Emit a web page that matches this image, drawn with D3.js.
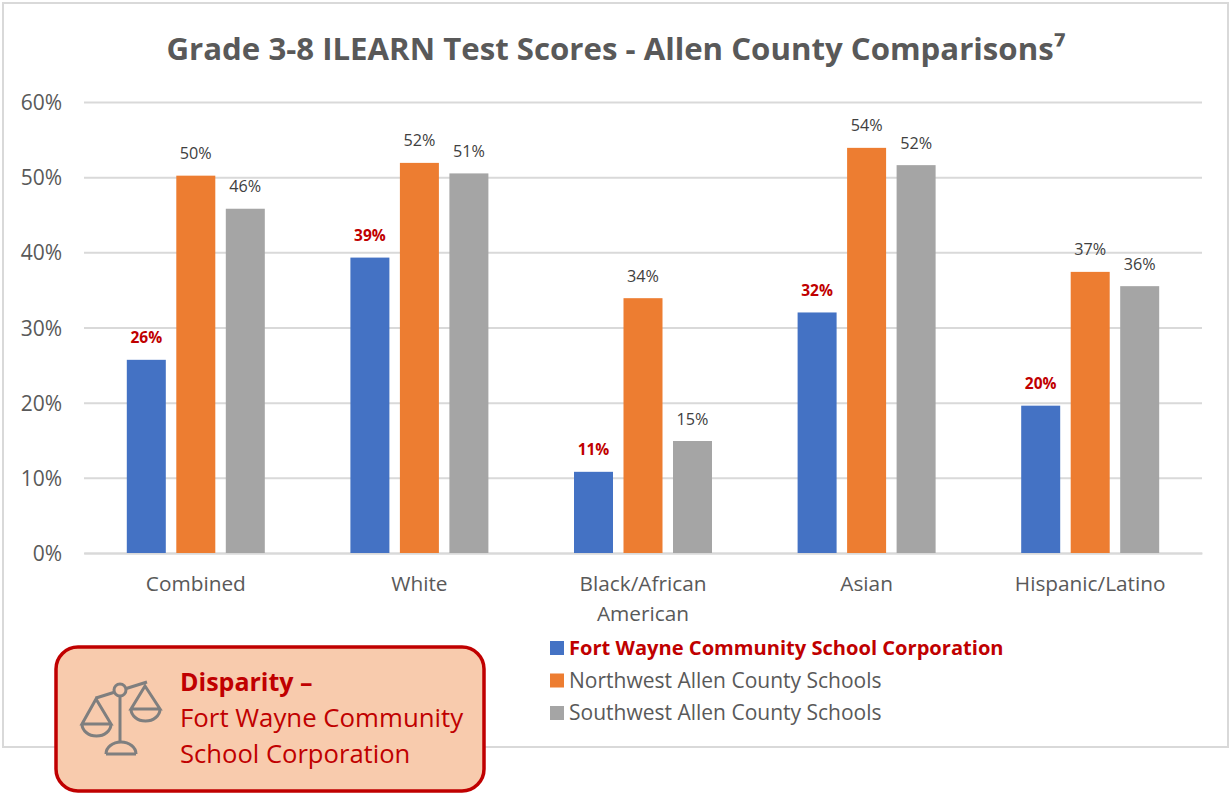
<!DOCTYPE html>
<html><head><meta charset="utf-8">
<style>html,body{margin:0;padding:0;background:#fff}svg{display:block}text{font-family:"Open Sans",sans-serif}</style>
<script src="https://cdn.jsdelivr.net/npm/d3@7"></script></head><body>
<script>
const categories=["Combined","White","Black/African American","Asian","Hispanic/Latino"];
const seriesNames=["Fort Wayne Community School Corporation","Northwest Allen County Schools","Southwest Allen County Schools"];
const fortWayne=[25.7,39.3,10.8,32.0,19.6];
const northwest=[50.2,51.9,33.9,53.9,37.4];
const southwest=[45.8,50.5,14.9,51.6,35.5];
const labelsFW=["26%","39%","11%","32%","20%"];
const labelsNW=["50%","52%","34%","54%","37%"];
const labelsSW=["46%","51%","15%","52%","36%"];
const colors=["#4472c4","#ed7d31","#a5a5a5"];
const yTicks=[0,10,20,30,40,50,60];
const W=1231,H=793,grey="#595959",red="#c00000";
const svg=d3.select("body").append("svg").attr("width",W).attr("height",H);
svg.append("rect").attr("x",3).attr("y",3).attr("width",1225).attr("height",744).attr("fill","#fff").attr("stroke","#d9d9d9").attr("stroke-width",2);
svg.append("text").attr("x",616).attr("y",60).attr("text-anchor","middle").attr("font-size",31.2).attr("font-weight",700).attr("fill",grey)
  .text("Grade 3-8 ILEARN Test Scores - Allen County Comparisons⁷");
const x=d3.scaleBand().domain(categories).range([84,1202]);
const y=d3.scaleLinear().domain([0,60]).range([553,102]);
const sx=d3.scaleBand().domain([0,1,2]).range([0,138]).paddingInner(0.2121).paddingOuter(0);
// gridlines and y axis
const ya=svg.append("g").attr("transform","translate(84,0)").call(d3.axisLeft(y).tickValues(yTicks).tickFormat(d=>d+"%").tickSize(-1118));
ya.select(".domain").remove();
ya.selectAll("line").attr("stroke","#d9d9d9").attr("stroke-width",2);
ya.selectAll("text").attr("x",-22).attr("dy","0.36em").attr("font-size",21).attr("fill",grey).style("font-family",'"Open Sans",sans-serif');
// x axis
const xa=svg.append("g").attr("transform","translate(0,553)").call(d3.axisBottom(x).tickSize(0).tickFormat(""));
xa.select(".domain").attr("stroke","#d9d9d9").attr("stroke-width",2);
xa.selectAll("text").remove();
const catLines={"Black/African American":["Black/African","American"]};
categories.forEach(c=>{
  const lines=catLines[c]||[c];
  lines.forEach((l,i)=>svg.append("text").attr("x",x(c)+x.bandwidth()/2).attr("y",591+i*29.5).attr("text-anchor","middle").attr("font-size",20.8).attr("fill",grey).text(l));
});
// bars
[[fortWayne,labelsFW],[northwest,labelsNW],[southwest,labelsSW]].forEach(([vals,labs],s)=>{
  const off=x.bandwidth()/2-69+sx(s);
  categories.forEach((c,i)=>{
    svg.append("rect").attr("x",x(c)+off).attr("y",y(vals[i])).attr("width",sx.bandwidth()).attr("height",y(0)-y(vals[i])).attr("fill",colors[s]);
    svg.append("text").attr("x",x(c)+off+sx.bandwidth()/2).attr("y",y(vals[i])-16.5).attr("text-anchor","middle")
      .attr("font-size",s===0?15.5:16.2).attr("font-weight",s===0?700:400).attr("fill",s===0?red:"#404040").text(labs[i]);
  });
});
// legend
seriesNames.forEach((n,i)=>{
  const ly=648+i*32.5;
  svg.append("rect").attr("x",550).attr("y",ly-7).attr("width",14).attr("height",14).attr("fill",colors[i]);
  svg.append("text").attr("x",569).attr("y",ly+7).attr("font-size",i===0?20.1:21).attr("font-weight",i===0?700:400).attr("fill",i===0?red:grey).text(n);
});
// callout
svg.append("rect").attr("x",56).attr("y",647).attr("width",428).attr("height",144).attr("rx",22).attr("fill","#f8cbad").attr("stroke",red).attr("stroke-width",3.5);
svg.append("text").attr("x",180).attr("y",691).attr("font-size",25).attr("font-weight",700).attr("fill",red).text("Disparity –");
svg.append("text").attr("x",180).attr("y",727).attr("font-size",25.8).attr("fill",red).text("Fort Wayne Community");
svg.append("text").attr("x",180).attr("y",763).attr("font-size",25.6).attr("fill",red).text("School Corporation");
// scales icon
const ic=svg.append("g").attr("fill","none").attr("stroke","#7f7f7f").attr("stroke-width",3);
ic.append("path").attr("d","M96 698 L147 682");
ic.append("circle").attr("cx",120).attr("cy",690).attr("r",6).attr("fill","#f8cbad");
ic.append("path").attr("d","M120 696 V743");
ic.append("path").attr("d","M106 754 H136 M106 754 A15 12 0 0 1 136 754");
ic.append("path").attr("d","M96 699 L82 724 H111 Z M82 724 A14.5 12 0 0 0 111 724");
ic.append("path").attr("d","M145 686 L131 709 H160 Z M131 709 A14.5 12 0 0 0 160 709");
</script></body></html>
